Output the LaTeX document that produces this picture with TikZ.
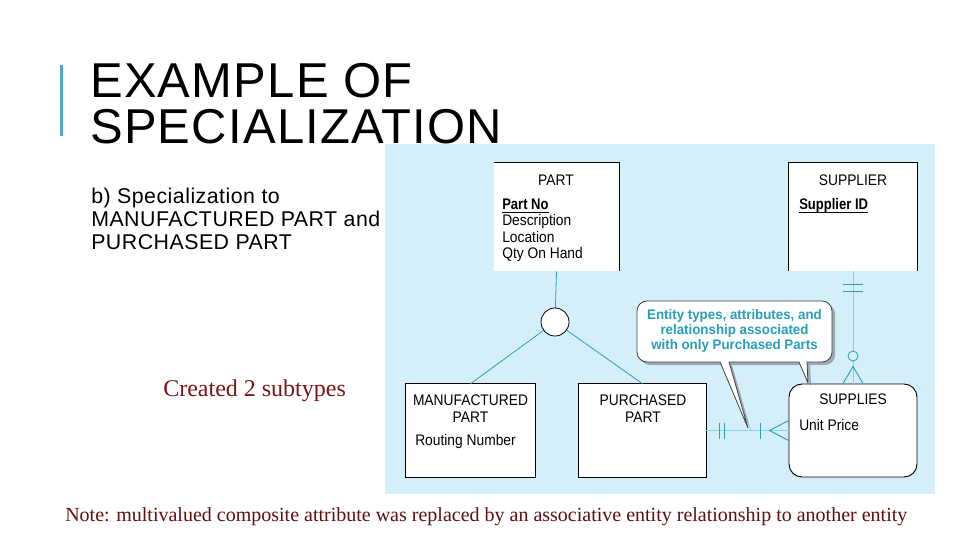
\documentclass[tikz,border=0pt]{standalone}
\usepackage{fontspec}
\setmainfont{Liberation Sans}
\newfontfamily\serifface{Liberation Serif}
\usetikzlibrary{calc}
\definecolor{panelblue}{RGB}{212,238,250}
\definecolor{barblue}{RGB}{74,168,212}
\definecolor{ercon}{RGB}{45,160,182}
\definecolor{rellight}{RGB}{125,215,235}
\definecolor{calltxt}{RGB}{38,158,188}
\definecolor{createdred}{RGB}{122,22,22}
\definecolor{notered}{RGB}{95,15,15}
\newcommand\ertext[1]{\scalebox{0.9}[1]{#1}}
\begin{document}
\begin{tikzpicture}[x=0.75pt,y=-0.75pt,
  ent/.style={fill=white, inner sep=0, minimum width=#1},
  edge/.style={draw=black, line width=0.7pt},
  lbl/.style={font=\fontsize{11.5}{13}\selectfont, inner sep=0, anchor=base},
  attr/.style={lbl, anchor=base west},
  isaline/.style={draw=ercon, line width=0.6pt},
  relline/.style={draw=rellight, line width=0.6pt},
  relmark/.style={draw=ercon, line width=0.7pt},
  calltext/.style={font=\fontsize{10.4}{11.25}\selectfont\bfseries, text=calltxt, align=center, inner sep=0},
  callshape/.style={fill=white, draw=black!75, line width=0.6pt, line join=round}
]
\useasboundingbox (0,0) rectangle (960,540);
\fill[white] (0,0) rectangle (960,540);

% title
\fill[barblue] (59.5,65) rectangle (62.5,136);
\node[inner sep=0, anchor=base west, font=\fontsize{36.7}{43}\selectfont\addfontfeature{LetterSpace=2.5}] (t1) at (90,97) {EXAMPLE OF};
\node[inner sep=0, anchor=base west, font=\fontsize{36.7}{43}\selectfont\addfontfeature{LetterSpace=2.5}] (t2) at (90,143) {SPECIALIZATION};

% subtitle
\node[inner sep=0, anchor=base west, font=\fontsize{16}{17.25}\selectfont\addfontfeature{LetterSpace=2.3}] (s1) at (91,203) {b) Specialization to};
\node[inner sep=0, anchor=base west, font=\fontsize{16}{17.25}\selectfont\addfontfeature{LetterSpace=2.3}] (s2) at (91,226) {MANUFACTURED PART and};
\node[inner sep=0, anchor=base west, font=\fontsize{16}{17.25}\selectfont\addfontfeature{LetterSpace=2.3}] (s3) at (91,249) {PURCHASED PART};

% panel
\fill[panelblue] (385,144) rectangle (935,494);

% entities
\node[ent=93.75pt, minimum height=81pt] (part) at (556.5,217) {};
\node[ent=96pt, minimum height=81pt] (supplier) at (853,217) {};
\node[ent=96.75pt, minimum height=69.75pt] (mfg) at (470.5,430.5) {};
\node[ent=95.25pt, minimum height=69.75pt] (pur) at (642.5,430.5) {};
\node[ent=96pt, minimum height=69.75pt, rounded corners=9.75pt, draw=black, line width=0.7pt] (supplies) at (853,430.5) {};

\draw[edge] (part.north west) -- (part.north east) -- (part.south east);
\draw[edge] (supplier.south west) -- (supplier.north west) -- (supplier.north east) -- (supplier.south east);
\draw[edge] (mfg.north west) rectangle (mfg.south east);
\draw[edge] (pur.north west) rectangle (pur.south east);

% specialization lines
\coordinate (isac) at (555,322);
\draw[isaline] (part.south) -- (isac);
\draw[isaline] (isac) -- (mfg.north);
\draw[isaline] (isac) -- (pur.north);
\node[circle, draw=black, fill=white, line width=0.6pt, minimum size=21pt, inner sep=0] (isa) at (isac) {};

% relationship PURCHASED PART -- SUPPLIES
\draw[relline] (pur.east) -- (supplies.west);
\draw[relmark] ($(pur.east)+(13,-8)$) -- ($(pur.east)+(13,8)$);
\draw[relmark] ($(pur.east)+(18,-8)$) -- ($(pur.east)+(18,8)$);
\draw[relmark] ($(supplies.west)+(-28,-8)$) -- ($(supplies.west)+(-28,8)$);
\draw[relmark] ($(supplies.west)+(0,-10)$) -- ($(supplies.west)+(-19,0)$) -- ($(supplies.west)+(0,10)$);

% relationship SUPPLIER -- SUPPLIES
\draw[relline] (supplier.south) -- (supplies.north);
\draw[relmark] ($(supplier.south)+(-10,13)$) -- ($(supplier.south)+(10,13)$);
\draw[relmark] ($(supplier.south)+(-10,20)$) -- ($(supplier.south)+(10,20)$);
\node[circle, draw=ercon, fill=panelblue, line width=0.6pt, minimum size=7.5pt, inner sep=0] (opt) at ($(supplies.north)+(0,-27.5)$) {};
\draw[relmark] ($(supplies.north)+(-10,0)$) -- ($(supplies.north)+(0,-17)$) -- ($(supplies.north)+(10,0)$);

% entity texts
\node[lbl] (partT) at (556,185) {\ertext{PART}};
\node[attr, font=\fontsize{11.5}{13}\selectfont\bfseries] (pno) at (502,209) {\scalebox{0.85}[1]{Part No}};
\draw[line width=0.6pt] ([yshift=-2.4pt]pno.base west) -- ([yshift=-2.4pt]pno.base east);
\node[attr] (pdesc) at (502,225.5) {\ertext{Description}};
\node[attr] (ploc) at (502,242) {\ertext{Location}};
\node[attr] (pqty) at (502,258.5) {\ertext{Qty On Hand}};

\node[lbl] (supT) at (853,185) {\ertext{SUPPLIER}};
\node[attr, font=\fontsize{11.5}{13}\selectfont\bfseries] (sid) at (799,209) {\scalebox{0.85}[1]{Supplier ID}};
\draw[line width=0.6pt] ([yshift=-2.4pt]sid.base west) -- ([yshift=-2.4pt]sid.base east);

\node[lbl] (mfgT1) at (470.5,405) {\ertext{MANUFACTURED}};
\node[lbl] (mfgT2) at (470.5,422) {\ertext{PART}};
\node[attr] (rnum) at (415,445) {\ertext{Routing Number}};

\node[lbl] (purT1) at (643,405) {\ertext{PURCHASED}};
\node[lbl] (purT2) at (643,422) {\ertext{PART}};

\node[lbl] (supsT) at (853,404) {\ertext{SUPPLIES}};
\node[attr] (uprice) at (799,430) {\ertext{Unit Price}};

% callout shadow
\fill[black, opacity=0.28] (650,304) -- (825,304) arc[start angle=90, end angle=0, radius=7.5pt] -- (835,355) arc[start angle=0, end angle=-90, radius=7.5pt] -- (810,365) -- (811,386) -- (802,365) -- (732,365) -- (751,431) -- (723,365) -- (650,365) arc[start angle=270, end angle=180, radius=7.5pt] -- (640,314) arc[start angle=180, end angle=90, radius=7.5pt] -- cycle;
% callout
\draw[callshape] (647,301) -- (822,301) arc[start angle=90, end angle=0, radius=7.5pt] -- (832,352) arc[start angle=0, end angle=-90, radius=7.5pt] -- (807,362) -- (808,383) -- (799,362) -- (729,362) -- (748,428) -- (720,362) -- (647,362) arc[start angle=270, end angle=180, radius=7.5pt] -- (637,311) arc[start angle=180, end angle=90, radius=7.5pt] -- cycle;
\node[calltext] (ctext) at (734.5,331) {\scalebox{0.96}[1]{Entity types, attributes, and}\\\scalebox{0.96}[1]{relationship associated}\\\scalebox{0.96}[1]{with only Purchased Parts}};

% annotations
\node[inner sep=0, anchor=base west, font=\serifface\fontsize{18}{20}\selectfont, text=createdred] (created) at (163,396) {Created 2 subtypes};
\node[inner sep=0, anchor=base west, font=\serifface\fontsize{15}{17}\selectfont, text=notered] (note) at (65,521) {Note: multivalued composite attribute was replaced by an associative entity relationship to another entity};
\end{tikzpicture}
\end{document}
